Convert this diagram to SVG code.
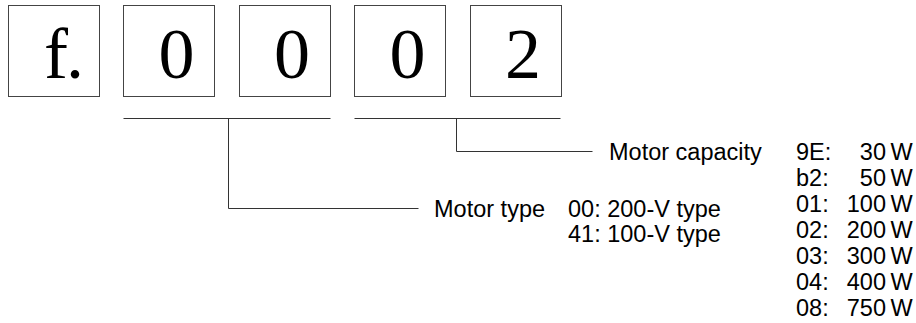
<svg xmlns="http://www.w3.org/2000/svg" width="916" height="323" viewBox="0 0 916 323">
<style>
.box{fill:#fff;stroke:#444;stroke-width:1}
.dig{font-family:"Liberation Serif","Times New Roman",serif;font-size:72px;fill:#000;text-anchor:middle}
.lbl{font-family:"Liberation Sans",Arial,sans-serif;font-size:23.5px;fill:#000}
.end{text-anchor:end}
.con{fill:none;stroke:#333;stroke-width:1}
</style>
<rect width="916" height="323" fill="#fff"/>
<g id="box-f">
<rect class="box" x="8.5" y="5.5" width="91" height="91"/>
<text class="dig" x="44" y="78.3" style="text-anchor:start;letter-spacing:-2px">f.</text>
</g>
<g id="box-0a">
<rect class="box" x="123.5" y="5.5" width="91" height="91"/>
<text class="dig" x="176.5" y="78.3">0</text>
</g>
<g id="box-0b">
<rect class="box" x="239.5" y="5.5" width="91" height="91"/>
<text class="dig" x="292" y="78.3">0</text>
</g>
<g id="box-0c">
<rect class="box" x="354.5" y="5.5" width="91" height="91"/>
<text class="dig" x="407.5" y="78.3">0</text>
</g>
<g id="box-2">
<rect class="box" x="470.5" y="5.5" width="91" height="91"/>
<text class="dig" x="523" y="78.3">2</text>
</g>
<g id="connectors">
<path class="con" d="M123.5 118.5H330.5M228.5 118.5V208.5H418.5"/>
<path class="con" d="M354.5 118.5H560.5M456.5 118.5V151.5H592.5"/>
</g>
<g id="motor-type">
<text class="lbl" x="434" y="216.7">Motor type</text>
<text class="lbl" x="568" y="216.7">00: 200-V type</text>
<text class="lbl" x="568" y="241.5">41: 100-V type</text>
</g>
<g id="motor-capacity">
<text class="lbl" x="609" y="160">Motor capacity</text>
<g>
<text class="lbl" x="796" y="160">9E:</text>
<text class="lbl" x="796" y="186">b2:</text>
<text class="lbl" x="796" y="212">01:</text>
<text class="lbl" x="796" y="238">02:</text>
<text class="lbl" x="796" y="264">03:</text>
<text class="lbl" x="796" y="290">04:</text>
<text class="lbl" x="796" y="316">08:</text>
</g>
<g>
<text class="lbl end" x="886" y="160">30</text>
<text class="lbl end" x="886" y="186">50</text>
<text class="lbl end" x="886" y="212">100</text>
<text class="lbl end" x="886" y="238">200</text>
<text class="lbl end" x="886" y="264">300</text>
<text class="lbl end" x="886" y="290">400</text>
<text class="lbl end" x="886" y="316">750</text>
</g>
<g>
<text class="lbl" x="890.5" y="160">W</text>
<text class="lbl" x="890.5" y="186">W</text>
<text class="lbl" x="890.5" y="212">W</text>
<text class="lbl" x="890.5" y="238">W</text>
<text class="lbl" x="890.5" y="264">W</text>
<text class="lbl" x="890.5" y="290">W</text>
<text class="lbl" x="890.5" y="316">W</text>
</g>
</g>
</svg>
